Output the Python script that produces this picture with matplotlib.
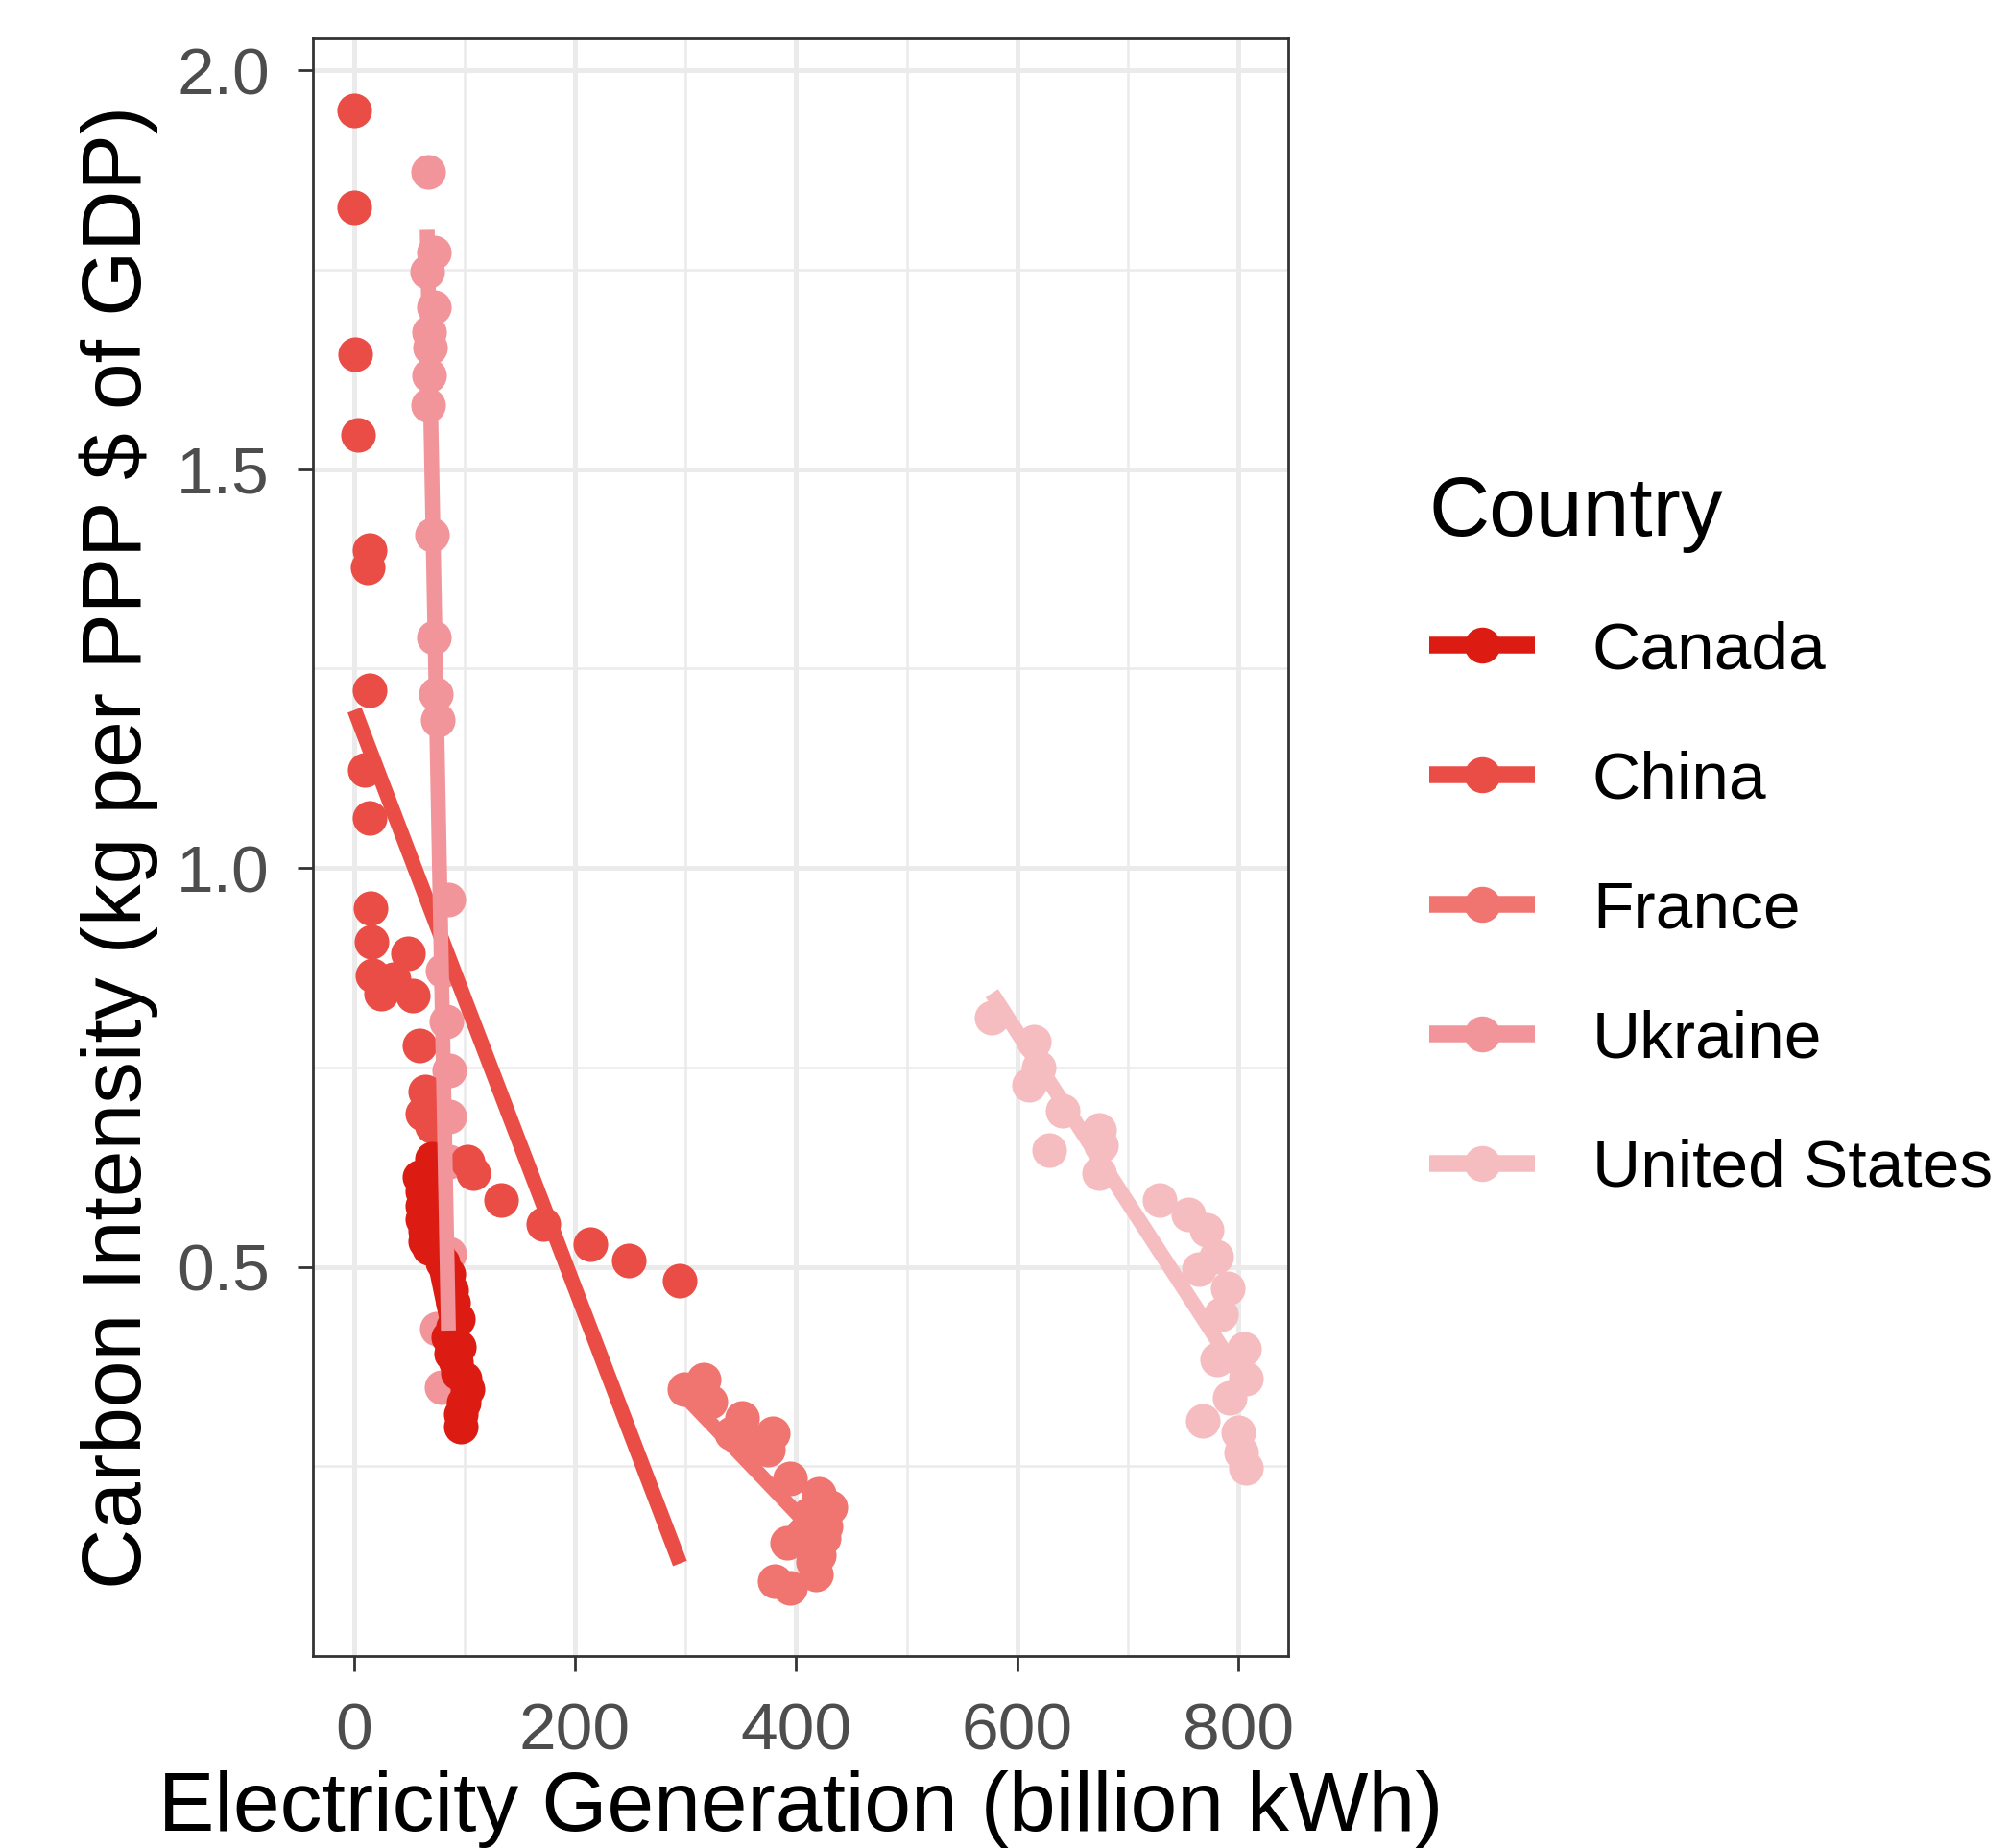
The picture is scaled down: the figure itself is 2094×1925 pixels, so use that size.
#Grafica de intensidad de carbono contra generacion electrica.
import matplotlib.pyplot as plt
from matplotlib.lines import Line2D
from matplotlib.ticker import FormatStrFormatter

plt.rcParams['font.family'] = ['Liberation Sans', 'DejaVu Sans']

#Paises y colores.
paises = ['Canada', 'China', 'France', 'Ukraine', 'United States']
colores = ['#dc1c13', '#ea4c46', '#f07470', '#f1959b', '#f6bdc0']

#Datos (billion kWh, kg per PPP $ of GDP).
canada_x = [70.7, 59.1, 62, 62, 62, 64.9, 64.9, 67.8, 70, 73, 72, 75, 80, 85.2, 88, 90,
            93.8, 85.2, 88, 93.8, 102.5, 96.7, 99, 100, 95, 90, 92, 97]
canada_y = [0.636, 0.612, 0.594, 0.576, 0.560, 0.545, 0.532, 0.524, 0.605, 0.585, 0.55, 0.52,
            0.505, 0.491, 0.471, 0.455, 0.435, 0.411, 0.391, 0.367, 0.347, 0.315, 0.33, 0.36,
            0.40, 0.425, 0.38, 0.30]

china_x = [0.6, 0.6, 1.5, 3.5, 14.2, 12.8, 14.2, 9.9, 14.2, 15.1, 16.2, 17.1, 24.4, 35.9,
           49, 53.3, 59.1, 64.9, 62, 70.7, 102.5, 108, 132.9, 171.4, 213.9, 248.6, 294.9]
china_y = [1.950, 1.828, 1.644, 1.543, 1.398, 1.377, 1.223, 1.123, 1.063, 0.950, 0.908, 0.865,
           0.843, 0.861, 0.893, 0.840, 0.777, 0.720, 0.692, 0.676, 0.632, 0.618, 0.584, 0.554,
           0.528, 0.508, 0.483]

france_x = [299.3, 316.6, 322.4, 341.3, 351.3, 378.9, 374.5, 394.7, 420.8, 430.9, 426.6,
            391.9, 420.8, 418.1, 380.3, 394.7, 406.4, 360, 412, 425, 415]
france_y = [0.347, 0.359, 0.331, 0.291, 0.311, 0.291, 0.271, 0.235, 0.215, 0.199, 0.174,
            0.154, 0.138, 0.114, 0.106, 0.098, 0.166, 0.28, 0.19, 0.16, 0.13]

ukraine_x = [67, 72, 66, 72, 68, 69, 68, 67, 71, 72, 74, 76, 85, 80, 84, 86, 86, 86, 86,
             75, 79]
ukraine_y = [1.873, 1.772, 1.748, 1.703, 1.672, 1.653, 1.617, 1.580, 1.418, 1.289, 1.218,
             1.186, 0.961, 0.871, 0.808, 0.746, 0.688, 0.632, 0.516, 0.423, 0.349]

usa_x = [577, 614.7, 619, 610.3, 640.8, 629.2, 674, 675.5, 674, 729, 755, 771, 780, 764,
         790, 784, 805, 781, 807, 792, 768, 800, 802, 807]
usa_y = [0.8125, 0.782, 0.750, 0.728, 0.696, 0.646, 0.672, 0.652, 0.618, 0.584, 0.566,
         0.546, 0.513, 0.497, 0.473, 0.441, 0.397, 0.384, 0.36, 0.336, 0.307, 0.293,
         0.267, 0.248]

#Rectas de tendencia (inicio y fin, por pais).
tend_x0 = [59.1, 0.6, 299.3, 66.3, 577]
tend_y0 = [0.600, 1.198, 0.338, 1.800, 0.843]
tend_x1 = [102.5, 294.9, 430.9, 85.5, 807]
tend_y1 = [0.312, 0.128, 0.147, 0.420, 0.352]

datos_x = [canada_x, china_x, france_x, ukraine_x, usa_x]
datos_y = [canada_y, china_y, france_y, ukraine_y, usa_y]

#Marco.
fig = plt.figure(figsize=(20.94, 19.25), dpi=100)
ax = fig.add_axes([0.1557, 0.1039, 0.4852, 0.8753])

#Puntos (Canada al final, queda encima).
orden_puntos = [4, 3, 2, 1, 0]
for i in orden_puntos:
    ax.scatter(datos_x[i], datos_y[i], s=676, color=colores[i], linewidths=0, zorder=3)

#Rectas de tendencia por pais.
for i, c in enumerate(colores):
    ax.plot([tend_x0[i], tend_x1[i]], [tend_y0[i], tend_y1[i]], color=c, lw=11.2,
            solid_capstyle='butt', zorder=4)

#Ejes.
ax.set_xlim(-37, 845)
ax.set_ylim(0.012, 2.04)
ax.set_xticks([0, 200, 400, 600, 800])
ax.set_xticks([100, 300, 500, 700], minor=True)
ax.set_yticks([0.5, 1.0, 1.5, 2.0])
ax.set_yticks([0.25, 0.75, 1.25, 1.75], minor=True)
ax.yaxis.set_major_formatter(FormatStrFormatter('%.1f'))

ax.set_axisbelow(True)
ax.grid(which='major', color='#ebebeb', lw=3.6)
ax.grid(which='minor', color='#ebebeb', lw=1.8)
for s in ax.spines.values():
    s.set_color('#333333')
    s.set_linewidth(2)

ax.tick_params(which='major', length=11.5, width=2, color='#333333',
               labelsize=50, labelcolor='#4d4d4d')
ax.tick_params(axis='x', pad=23)
ax.tick_params(axis='y', pad=21)
ax.tick_params(which='minor', length=0)

ax.set_xlabel('Electricity Generation (billion kWh)', fontsize=63)
ax.set_ylabel('Carbon Intensity (kg per PPP $ of GDP)', fontsize=63)
ax.xaxis.set_label_coords(0.5, -0.0706)
ax.yaxis.set_label_coords(-0.1585, 0.5)

#Leyenda.
manijas = [Line2D([], [], color=c, lw=12.6, marker='o', markersize=26,
                  solid_capstyle='butt') for c in colores]
fig.legend(manijas, paises, loc='upper left', bbox_to_anchor=(0.6944, 0.7610),
           frameon=False, fontsize=50, title='Country', title_fontsize=63,
           alignment='left', borderpad=0, labelspacing=1.02, handlelength=1.585,
           handletextpad=0.865)

fig.savefig('out.png', dpi=100)
